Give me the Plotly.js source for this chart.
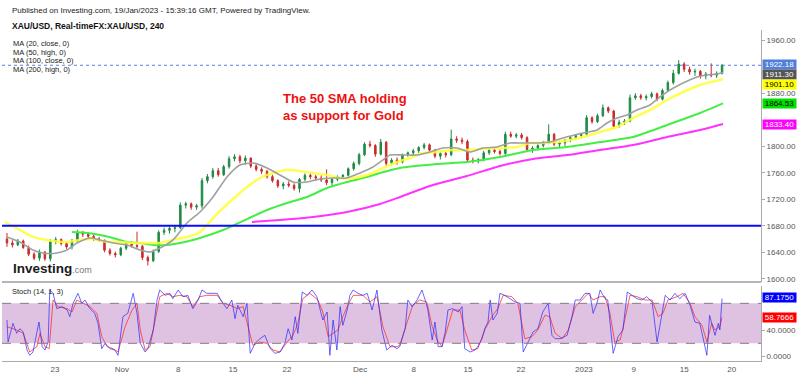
<!DOCTYPE html>
<html><head><meta charset="utf-8">
<script src="https://cdn.plot.ly/plotly-3.0.1.min.js"></script>
<style>html,body{margin:0;padding:0;background:#fff}#chart{width:800px;height:376px}</style>
</head><body><div id="chart"></div>
<script>
// ---- Candles (12h-ish bars) ----
const openP = [
1660,1654,1651,1657,1647,1637,1631,1640,1630,1656,
1659,1653,1648,1657,1670,1667,1664,1660,1658,1643,
1638,1636,1646,1653,1650,1649,1632,1627,1641,1670,
1673,1676,1677,1711,1713,1708,1710,1748,1754,1763,
1757,1769,1781,1784,1778,1782,1770,1765,1762,1754,
1748,1740,1743,1741,1736,1750,1756,1754,1752,1749,
1745,1750,1754,1756,1766,1774,1787,1803,1801,1788,
1806,1774,1779,1776,1787,1790,1793,1798,1802,1794,
1785,1789,1787,1811,1809,1807,1779,1778,1780,1790,
1794,1792,1789,1818,1815,1817,1813,1795,1797,1801,
1805,1818,1803,1805,1809,1813,1816,1818,1843,1837,
1846,1858,1853,1830,1836,1838,1873,1876,1873,1875,
1879,1871,1884,1896,1910,1924,1916,1912,1913,1906,
1909,1907,1910];
const highP = [
1669,1658,1660,1659,1650,1640,1644,1642,1660,1663,
1661,1656,1660,1674,1672,1670,1667,1663,1659,1646,
1641,1648,1655,1656,1671,1651,1635,1644,1673,1677,
1679,1680,1715,1716,1715,1713,1752,1758,1767,1767,
1772,1785,1788,1787,1786,1783,1773,1768,1764,1757,
1750,1746,1747,1744,1752,1759,1759,1757,1756,1765,
1752,1756,1758,1768,1777,1790,1806,1808,1803,1811,
1808,1782,1783,1789,1792,1796,1800,1805,1804,1796,
1792,1792,1825,1815,1813,1810,1783,1782,1793,1797,
1798,1795,1822,1822,1820,1820,1815,1800,1803,1808,
1833,1820,1808,1811,1815,1818,1820,1847,1845,1849,
1863,1860,1855,1840,1841,1878,1880,1879,1878,1882,
1881,1887,1899,1915,1930,1927,1920,1917,1915,1912,
1925,1913,1924];
const lowP = [
1648,1647,1649,1645,1634,1628,1627,1627,1626,1652,
1650,1645,1644,1655,1663,1661,1657,1656,1640,1635,
1632,1634,1643,1647,1646,1628,1620,1625,1639,1666,
1668,1670,1675,1706,1704,1704,1706,1744,1751,1754,
1755,1766,1777,1774,1772,1767,1762,1758,1751,1745,
1737,1735,1738,1733,1730,1747,1750,1748,1746,1741,
1740,1747,1750,1754,1763,1771,1785,1798,1784,1786,
1770,1771,1772,1774,1784,1787,1790,1795,1791,1782,
1780,1783,1785,1805,1803,1776,1774,1774,1777,1787,
1789,1786,1787,1813,1812,1810,1791,1790,1794,1798,
1803,1800,1797,1800,1806,1810,1812,1816,1834,1835,
1844,1850,1826,1828,1832,1836,1870,1870,1869,1872,
1868,1869,1882,1893,1908,1912,1908,1906,1902,1901,
1904,1903,1908];
const closeP = [
1654,1651,1657,1647,1637,1631,1640,1630,1656,1659,
1653,1648,1657,1670,1667,1664,1660,1658,1643,1638,
1636,1646,1653,1650,1649,1632,1627,1641,1670,1673,
1676,1677,1711,1713,1708,1710,1748,1754,1763,1757,
1769,1781,1784,1778,1782,1770,1765,1762,1754,1748,
1740,1743,1741,1736,1750,1756,1754,1752,1749,1745,
1750,1754,1756,1766,1774,1787,1803,1801,1788,1806,
1774,1779,1776,1787,1790,1793,1798,1802,1794,1785,
1789,1787,1811,1809,1807,1779,1778,1780,1790,1794,
1792,1789,1818,1815,1817,1813,1795,1797,1801,1805,
1818,1803,1805,1809,1813,1816,1818,1843,1837,1846,
1858,1853,1830,1836,1838,1873,1876,1873,1875,1879,
1871,1884,1896,1910,1924,1916,1912,1913,1906,1909,
1907,1910,1922.18];

// ---- Moving averages (bar position, price) ----
const ma20X = [0,2.4,4.8,6.65,9.23,11.08,12.92,15.32,17.17,19.57,22.15,24.55,26.4,28.24,30.64,33.23,35.63,38.03,40.61,43.01,45.41,48.0,50.4,52.8,55.38,57.78,60.18,62.77,65.17,67.57,69.41,70.7,73.1,75.69,78.09,80.49,83.07,85.47,87.87,90.45,92.86,95.26,97.84,100.24,102.64,106.33,108.92,110.76,112.61,114.45,116.3,118.7,120.55,122.39,124.79,127.38,129.22,131.07,132.18];
const ma20Y = [1663,1655.4,1643.3,1638.8,1638.8,1643.3,1653.9,1661.5,1658.5,1653.9,1650.9,1643.3,1640.3,1646.3,1658.5,1684.1,1700.7,1723.3,1753.5,1771.6,1774.6,1767.1,1756.5,1746,1746,1750.5,1752,1752,1759.6,1768.6,1779.2,1786.7,1786.7,1786.7,1791.2,1797.3,1797.3,1791.2,1797.3,1798.8,1804.8,1804.8,1804.8,1806.3,1812.4,1819.9,1824.4,1835,1842.6,1847.1,1854.6,1862.2,1874.3,1884.8,1895.4,1904.5,1907.5,1909,1911.3];
const ma50X = [-0.37,2.4,4.8,7.38,11.08,13.48,15.88,18.46,20.86,23.26,25.84,28.24,30.64,33.23,35.63,36.92,39.32,41.72,44.31,46.7,49.1,51.69,54.09,56.49,59.07,61.47,63.87,66.46,68.86,72.0,74.4,76.8,79.38,81.78,84.18,86.76,89.16,91.56,94.15,96.55,98.95,101.53,103.93,106.33,109.47,112.61,115.56,118.7,121.84,124.79,127.93,132.18];
const ma50Y = [1685.6,1673.5,1663,1658.5,1655.4,1658.5,1660,1655.4,1655.4,1653.9,1653.9,1653.9,1658.5,1663,1670.5,1681.1,1702.2,1720.3,1738.4,1752,1759.6,1764.1,1762.6,1759.6,1756.5,1752,1752,1756.5,1765,1776.2,1782.2,1789.7,1791.2,1794,1794,1795.5,1796.5,1797.3,1798.8,1804.8,1804.8,1806.3,1809.3,1813.9,1821.4,1829,1842.6,1854.6,1869.7,1881.8,1892.4,1901.1];
const ma100X = [12.0,14.77,17.17,19.57,22.15,24.55,26.95,29.54,31.94,34.34,35.63,39.88,44.31,48.0,51.69,55.38,59.07,62.77,66.46,68.86,72.55,79.38,84.92,91.01,97.1,103.38,109.47,115.56,121.84,127.93,132.18];
const ma100Y = [1670.5,1669,1666,1661.5,1655.4,1653.9,1650.9,1650.9,1653.9,1658.5,1661.5,1673.5,1690,1703.7,1714.3,1723.3,1736.9,1746,1753.5,1759.6,1767.1,1773,1776.2,1783.7,1794.3,1798.8,1806.3,1813.9,1832,1850.1,1864.53];
const ma200X = [45.23,50.4,56.49,62.77,68.86,72.55,78.64,84.92,91.01,97.1,103.38,109.47,115.56,121.84,127.93,132.18];
const ma200Y = [1685.6,1688.6,1693.1,1700.7,1712.8,1723.3,1741.4,1755,1770.1,1780.7,1786.7,1794.3,1801.8,1813.9,1824.4,1833.4];

// ---- Stochastic (14,1,3) ----
const kX = [0,0.2,1.1,1.8,2.4,3.0,3.7,4.2,4.8,5.5,5.9,6.5,7.0,7.6,7.9,8.5,9.2,10.2,11.1,11.6,12.2,13.1,13.8,14.4,15.3,16.2,16.8,17.5,18.1,19.0,19.9,20.5,21.4,22.3,23.3,24.0,24.6,25.5,26.0,27.0,27.7,28.2,29.2,30.1,30.6,31.6,32.5,33.4,34.3,35.3,36.0,36.9,37.8,38.8,39.7,40.6,41.5,42.1,42.6,43.6,44.3,44.9,45.8,46.7,47.6,48.6,49.5,50.4,51.3,51.9,52.6,53.2,53.7,54.5,55.4,56.3,57.2,57.8,58.3,59.1,59.6,60.2,60.9,61.5,62.0,62.8,63.3,63.9,64.8,65.7,66.5,67.4,68.3,69.2,70.1,71.1,72.0,72.5,73.5,74.0,74.8,75.7,76.6,77.2,77.7,78.5,79.0,79.6,80.3,80.9,81.4,82.3,83.3,84.0,84.5,85.5,86.4,86.9,87.7,88.2,88.8,89.2,89.7,90.5,91.0,91.9,92.9,93.8,94.7,95.3,96.2,97.1,98.0,98.9,99.9,100.6,101.2,102.1,103.4,104.3,104.9,105.8,106.7,107.6,108.2,108.9,109.5,110.4,110.9,111.9,112.8,113.7,114.5,115.4,116.3,117.2,118.1,119.1,120.0,120.5,121.5,122.4,123.3,124.2,125.2,126.1,127.0,127.9,128.8,129.2,129.7,130.7,131.3,131.6,132.0];
const kY = [55,22,50,35,42,37,10,2,7,35,52,15,10,22,100,95,72,75,70,60,80,95,80,85,72,65,50,12,20,12,10,2,60,65,95,65,20,7,12,40,85,100,92,95,87,100,90,92,72,85,100,95,95,95,82,72,85,57,77,60,80,5,20,27,32,12,5,7,20,42,25,60,35,97,92,100,90,70,55,67,2,55,10,75,47,70,92,100,95,92,95,70,100,40,10,17,12,15,42,85,75,85,100,85,70,25,52,15,15,37,70,72,67,75,12,7,10,15,27,42,52,85,55,65,95,92,87,82,80,7,22,37,42,67,80,32,27,27,32,60,85,85,95,95,65,80,100,87,85,5,30,40,97,92,87,85,90,82,22,45,92,85,95,87,95,77,52,50,20,2,62,32,50,40,87.175];
const dX = [0,1.8,3.0,4.2,5.5,6.1,7.0,7.8,8.5,9.4,11.1,12.0,12.9,14.0,15.3,16.6,17.5,18.5,19.6,20.5,21.8,23.1,24.0,24.6,25.5,26.4,27.3,28.2,29.5,30.6,31.9,33.2,34.3,35.6,36.9,38.8,39.9,41.2,42.5,43.6,44.5,45.4,46.7,48.0,49.1,50.4,51.7,52.8,53.7,54.6,55.9,57.4,58.3,59.3,60.2,61.1,62.0,62.9,63.9,65.7,67.0,68.3,69.4,70.7,72.0,72.5,73.8,74.9,76.2,77.5,78.5,79.4,80.3,81.2,82.3,83.6,84.5,85.8,86.9,88.2,89.5,90.6,91.6,93.2,94.3,95.6,96.9,98.0,99.3,100.2,101.2,102.5,103.6,104.9,106.1,107.3,108.2,109.5,110.4,111.3,112.2,113.2,114.1,115.0,116.3,117.8,119.1,120.2,121.1,122.0,123.7,124.8,126.1,127.0,128.3,129.2,130.1,130.7,131.6,132.0];
const dY = [45,40,35,7,15,35,15,12,85,75,72,67,85,80,75,65,30,15,12,7,45,70,80,40,10,15,50,90,95,90,92,90,75,90,92,92,80,77,72,75,45,17,22,20,10,7,22,32,50,87,95,85,67,30,35,40,60,77,92,92,82,90,45,15,15,17,50,77,85,82,45,25,15,40,70,70,40,10,12,40,60,72,92,90,80,27,30,40,62,60,35,27,40,75,85,95,85,90,90,65,22,25,57,92,90,85,85,60,65,85,90,95,80,60,47,22,50,40,45,58.7666];

// ---- Axis labels ----
const dateTickPos = [8.86,21.2,31.6,41.7,51.7,65.2,75.1,85.1,94.9,106.5,115.7,125.0,133.8];
const dateTickText = ['23','Nov','8','15','22','Dec','8','15','22','2023','9','15','20'];
// 1920.00, 1840.00 and 80.0000 sit under the value boxes in the reference
const priceTicks = [1600,1640,1680,1720,1760,1800,1880,1960];
const stochTicks = [0,40];
const supportLevel = 1680;
const lastPrice = 1922.18;

const barIdx = closeP.map((_, i) => i);

const PX = px => (px - 2) / 759;          // paper x from pixel
const PY = py => (361 - py) / 331;        // paper y from pixel
const FONT = 'Liberation Sans, Arial, sans-serif';

const traces = [
  {type:'candlestick', x:barIdx, open:openP, high:highP, low:lowP, close:closeP,
   xaxis:'x', yaxis:'y', whiskerwidth:0,
   increasing:{line:{color:'#1f8a45', width:1}, fillcolor:'#1f8a45'},
   decreasing:{line:{color:'#cc2a2a', width:1}, fillcolor:'#cc2a2a'}},
  {type:'scatter', mode:'lines', x:ma200X, y:ma200Y, yaxis:'y', line:{color:'#ff33ff', width:2, shape:'spline', smoothing:0.6}},
  {type:'scatter', mode:'lines', x:ma100X, y:ma100Y, yaxis:'y', line:{color:'#44ee44', width:2, shape:'spline', smoothing:0.6}},
  {type:'scatter', mode:'lines', x:ma50X, y:ma50Y, yaxis:'y', opacity:0.85, line:{color:'#ffff33', width:2.5, shape:'spline', smoothing:0.6}},
  {type:'scatter', mode:'lines', x:ma20X, y:ma20Y, yaxis:'y', line:{color:'#a0a0a0', width:1.6, shape:'spline', smoothing:0.6}},
  {type:'scatter', mode:'lines', x:dX, y:dY, yaxis:'y2', line:{color:'rgba(255,40,40,0.75)', width:1}},
  {type:'scatter', mode:'lines', x:kX, y:kY, yaxis:'y2', line:{color:'rgba(40,40,255,0.7)', width:1}}
];

function box(y, yref, text, bg, fg){
  return {xref:'paper', x:1, xanchor:'left', xshift:1, yref:yref, y:y, yanchor:'middle',
    text:text, showarrow:false, bgcolor:bg, width:33, height:9, borderpad:0,
    font:{family:FONT, size:8, color:fg}};
}

const annotations = [
  {xref:'paper', yref:'paper', x:PX(10), y:PY(10), xanchor:'left', yanchor:'middle', showarrow:false,
   text:'Published on Investing.com, 19/Jan/2023 - 15:39:16 GMT, Powered by TradingView.', font:{family:FONT, size:8, color:'#222'}},
  {xref:'paper', yref:'paper', x:PX(10), y:PY(26), xanchor:'left', yanchor:'middle', showarrow:false,
   text:'<b>XAU/USD, Real-timeFX:XAU/USD, 240</b>', font:{family:FONT, size:8.5, color:'#111'}},
  {xref:'paper', yref:'paper', x:PX(11), y:PY(43.5), xanchor:'left', yanchor:'middle', showarrow:false, text:'MA (20, close, 0)', font:{family:FONT, size:7.5, color:'#222'}},
  {xref:'paper', yref:'paper', x:PX(11), y:PY(52), xanchor:'left', yanchor:'middle', showarrow:false, text:'MA (50, high, 0)', font:{family:FONT, size:7.5, color:'#222'}},
  {xref:'paper', yref:'paper', x:PX(11), y:PY(60.5), xanchor:'left', yanchor:'middle', showarrow:false, text:'MA (100, close, 0)', font:{family:FONT, size:7.5, color:'#222'}},
  {xref:'paper', yref:'paper', x:PX(11), y:PY(69), xanchor:'left', yanchor:'middle', showarrow:false, text:'MA (200, high, 0)', font:{family:FONT, size:7.5, color:'#222'}},
  {xref:'paper', yref:'paper', x:PX(10), y:PY(291), xanchor:'left', yanchor:'middle', showarrow:false, text:'Stoch (14, 1, 3)', font:{family:FONT, size:7.5, color:'#222'}},
  {xref:'paper', yref:'paper', x:PX(281), y:PY(106.5), xanchor:'left', yanchor:'middle', align:'left', showarrow:false,
   text:'<b>The 50 SMA holding<br>as support for Gold</b>', font:{family:FONT, size:13, color:'#ee1111'}},
  {xref:'paper', yref:'paper', x:PX(11), y:PY(268), xanchor:'left', yanchor:'middle', showarrow:false,
   text:'<b>Investing</b><span style="font-size:9px;color:#777">.com</span>', font:{family:FONT, size:13.5, color:'#1a1a1a'}},
  box(1922.8, 'y', lastPrice.toFixed(2), '#4f7fd9', '#fff'),
  box(1908.6, 'y', '1911.30', '#555555', '#fff'),
  box(1892.4, 'y', '1901.10', '#ffff00', '#000'),
  box(1864.7, 'y', '1864.53', '#00e000', '#000'),
  box(1833.0, 'y', '1833.40', '#ff00ff', '#fff'),
  box(89, 'y2', '87.1750', '#0000ff', '#fff'),
  box(59, 'y2', '58.7666', '#ff0000', '#fff')
];

const shapes = [
  {type:'rect', xref:'paper', x0:0, x1:1, yref:'y2', y0:20, y1:80, fillcolor:'#dfc2e1', line:{width:0}, layer:'below'},
  {type:'line', xref:'paper', x0:0, x1:1, yref:'y2', y0:80, y1:80, line:{color:'#8a7a8a', width:1, dash:'dash'}},
  {type:'line', xref:'paper', x0:0, x1:1, yref:'y2', y0:20, y1:20, line:{color:'#8a7a8a', width:1, dash:'dash'}},
  {type:'line', xref:'paper', x0:0, x1:1, yref:'y', y0:supportLevel, y1:supportLevel, line:{color:'#0a0aff', width:2}},
  {type:'line', xref:'paper', x0:0, x1:1, yref:'y', y0:lastPrice, y1:lastPrice, line:{color:'#5a80e0', width:1, dash:'dot'}},
  {type:'line', xref:'paper', x0:0, x1:1, yref:'paper', y0:PY(282), y1:PY(282), line:{color:'#b5b5b5', width:2}}
];

const layout = {
  width:800, height:376,
  margin:{l:2, r:39, t:30, b:15, pad:0},
  paper_bgcolor:'#ffffff', plot_bgcolor:'#ffffff',
  showlegend:false, hovermode:false, boxgap:0.6,
  font:{family:FONT, size:8, color:'#555'},
  xaxis:{range:[-0.92,139.19], anchor:'y2', tickmode:'array', tickvals:dateTickPos, ticktext:dateTickText,
    showgrid:false, zeroline:false, showline:true, linecolor:'#aaaaaa', linewidth:1, ticks:'', ticklen:0,
    tickfont:{family:FONT, size:8, color:'#555'}, rangeslider:{visible:false}},
  yaxis:{domain:[PY(282),1], range:[1595.0,1975.4], side:'right', anchor:'x', tickmode:'array', tickvals:priceTicks,
    tickformat:'.2f', showgrid:false, zeroline:false, showline:true, linecolor:'#aaaaaa', linewidth:1,
    ticks:'outside', ticklen:3, tickcolor:'#aaaaaa', tickfont:{family:FONT, size:8, color:'#555'}},
  yaxis2:{domain:[0,PY(286)], range:[-6.5,106], side:'right', anchor:'x', tickmode:'array', tickvals:stochTicks,
    tickformat:'.4f', showgrid:false, zeroline:false, showline:true, linecolor:'#aaaaaa', linewidth:1,
    ticks:'outside', ticklen:3, tickcolor:'#aaaaaa', tickfont:{family:FONT, size:8, color:'#555'}},
  shapes:shapes, annotations:annotations
};

Plotly.newPlot('chart', traces, layout, {staticPlot:true, displayModeBar:false});
</script></body></html>
